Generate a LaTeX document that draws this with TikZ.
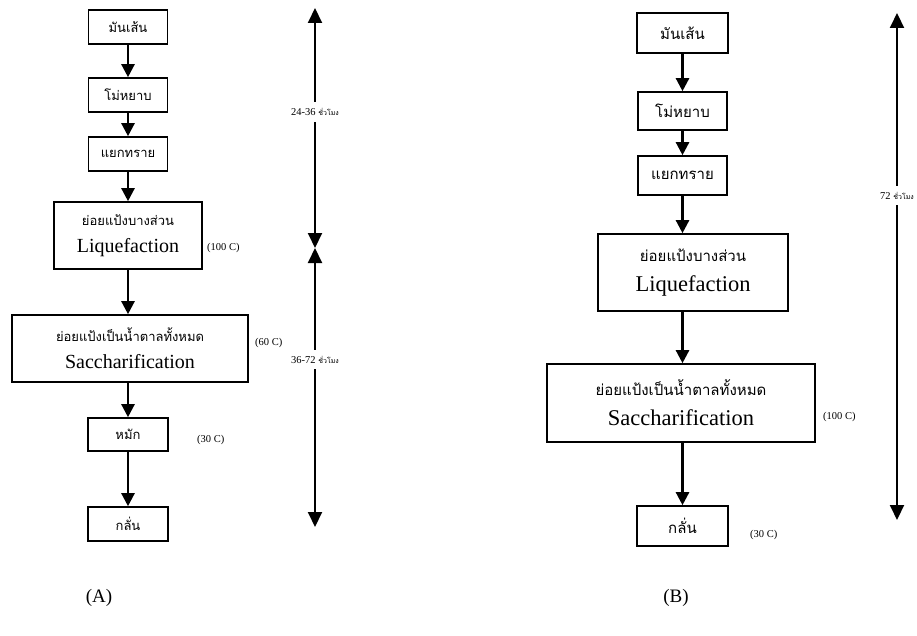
\documentclass[tikz,border=0pt]{standalone}
\usepackage{fontspec}
\setmainfont{Liberation Serif}
\newfontfamily\thai[Script=Thai]{Loma}
\usetikzlibrary{arrows.meta}
\newcommand\thA{\thai\fontsize{13}{15}\selectfont}
\newcommand\thB{\thai\fontsize{15}{17}\selectfont}
\newcommand\enA{\fontsize{20}{22}\selectfont}
\newcommand\enB{\fontsize{22.5}{25}\selectfont}
\newcommand\thS{\thai\fontsize{7}{8}\selectfont}
\tikzset{
  box/.style={draw, line width=1.6pt, inner sep=0pt, align=center},
  flow/.style={line width=2.4pt, -{Triangle[width=13pt,length=13pt]}},
  span/.style={line width=2pt, {Triangle[width=14pt,length=15pt]}-{Triangle[width=14pt,length=15pt]}},
  spanlbl/.style={fill=white, inner xsep=1pt, inner ysep=6pt, font=\fontsize{10.5}{12}\selectfont},
  temp/.style={anchor=west, inner sep=0pt, font=\fontsize{10.5}{12}\selectfont},
  captxt/.style={font=\fontsize{19}{21}\selectfont}
}
\begin{document}
\begin{tikzpicture}[x=1pt,y=-1pt]
\useasboundingbox (0,0) rectangle (917,636);
% ---------- (A) ----------
\node[box, minimum width=79pt, minimum height=34pt] (A1) at (128,27) {\thA มันเส้น};
\node[box, minimum width=79pt, minimum height=34pt] (A2) at (128,95) {\thA โม่หยาบ};
\node[box, minimum width=79pt, minimum height=34pt] (A3) at (128,154) {\thA แยกทราย};
\node[box, minimum width=148pt, minimum height=67pt] (A4) at (128,235.5) {\thA ย่อยแป้งบางส่วน\\[12pt] \enA Liquefaction};
\node[box, minimum width=236pt, minimum height=67pt] (A5) at (130,348.5) {\thA ย่อยแป้งเป็นน้ำตาลทั้งหมด\\[12pt] \enA Saccharification};
\node[box, minimum width=80pt, minimum height=33pt] (A6) at (128,434.5) {\thA หมัก};
\node[box, minimum width=80pt, minimum height=34pt] (A7) at (128,524) {\thA กลั่น};
\draw[flow] (A1) -- (A2);
\draw[flow] (A2) -- (A3);
\draw[flow] (A3) -- (A4);
\draw[flow] (A4.south) -- (A4.south |- A5.north);
\draw[flow] (A4.south |- A5.south) -- (A6.north);
\draw[flow] (A6) -- (A7);
\node[temp] (TA1) at (207,248) {(100 C)};
\node[temp] (TA2) at (255,343) {(60 C)};
\node[temp] (TA3) at (197,440) {(30 C)};
\coordinate (a1) at (315,8);
\coordinate (a2) at (315,248);
\coordinate (a3) at (315,527);
\draw[span] (a1) -- (a2) node[spanlbl, pos=0.433] (LA1) {24-36 {\thS ชั่วโมง}};
\draw[span] (a2) -- (a3) node[spanlbl, pos=0.40] (LA2) {36-72 {\thS ชั่วโมง}};
\node[captxt] (capA) at (99,598) {(A)};
% ---------- (B) ----------
\node[box, minimum width=91pt, minimum height=40pt] (B1) at (682.5,33) {\thB มันเส้น};
\node[box, minimum width=89pt, minimum height=38pt] (B2) at (682.5,111) {\thB โม่หยาบ};
\node[box, minimum width=89pt, minimum height=39pt] (B3) at (682.5,175.5) {\thB แยกทราย};
\node[box, minimum width=190pt, minimum height=77pt] (B4) at (693,272.5) {\thB ย่อยแป้งบางส่วน\\[13pt] \enB Liquefaction};
\node[box, minimum width=268pt, minimum height=78pt] (B5) at (681,403) {\thB ย่อยแป้งเป็นน้ำตาลทั้งหมด\\[13pt] \enB Saccharification};
\node[box, minimum width=91pt, minimum height=40pt] (B6) at (682.5,526) {\thB กลั่น};
\draw[flow] (B1) -- (B2);
\draw[flow] (B2) -- (B3);
\draw[flow] (B3.south) -- (B3.south |- B4.north);
\draw[flow] (B3.south |- B4.south) -- (B3.south |- B5.north);
\draw[flow] (B6.north |- B5.south) -- (B6.north);
\node[temp] (TB1) at (823,417) {(100 C)};
\node[temp] (TB2) at (750,535) {(30 C)};
\coordinate (b1) at (897,13);
\coordinate (b2) at (897,520);
\draw[span] (b1) -- (b2) node[spanlbl, pos=0.36] (LB1) {72 {\thS ชั่วโมง}};
\node[captxt] (capB) at (676,598) {(B)};
\end{tikzpicture}
\end{document}
